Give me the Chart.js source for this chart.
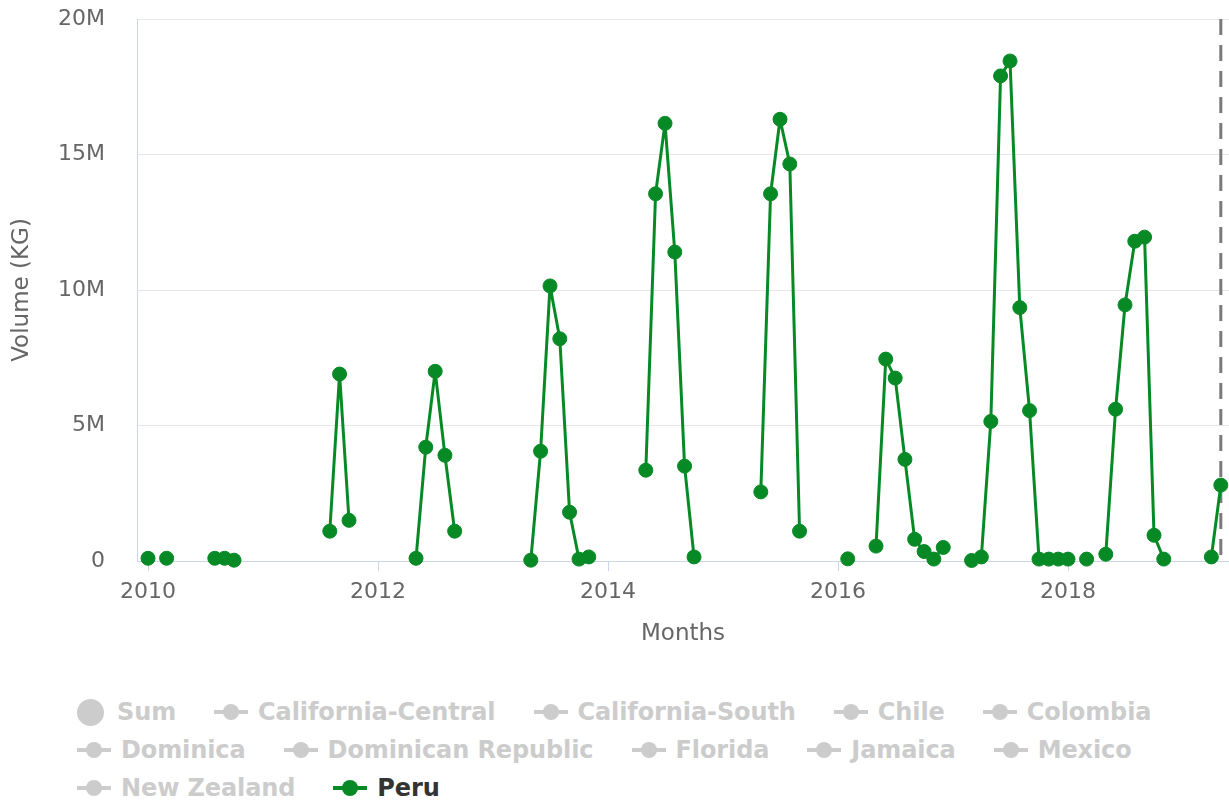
<!DOCTYPE html>
<html>
<head>
<meta charset="utf-8">
<script src="https://cdn.jsdelivr.net/npm/chart.js@4.4.0/dist/chart.umd.min.js"></script>
<style>
    body { margin: 0; background: #fff; font-family: "DejaVu Sans", sans-serif; }
    #wrap { position: relative; width: 1229px; height: 800px; overflow: hidden; }
    #legend { position: absolute; left: 77px; top: 693px; width: 1120px; display: flex; flex-wrap: wrap; column-gap: 38px; }
    .item { display: flex; align-items: center; height: 38px; font-size: 24px; font-weight: bold; color: #cccccc; white-space: nowrap; letter-spacing: -0.1px; }
    .item.on { color: #333333; }
    .sym { position: relative; width: 34px; height: 16px; margin-right: 10px; color: #cccccc; }
    .sym::before { content: ''; position: absolute; left: 0; right: 0; top: 6px; height: 4px; background: currentColor; }
    .sym::after { content: ''; position: absolute; left: 9px; top: 0; width: 16px; height: 16px; border-radius: 50%; background: currentColor; }
    .bubble { width: 27px; height: 27px; border-radius: 50%; background: #cccccc; margin-right: 13px; }
</style>
</head>
<body>
<div id="wrap">
    <canvas id="lineChart" width="1229" height="651"></canvas>
    <div id="legend"></div>
</div>
<script>
// monthly volumes for Peru, null = no shipments that month (breaks the line)
const months = [
    '2010-01', '2010-02', '2010-03', '2010-04', '2010-08', '2010-09', '2010-10', '2010-11',
    '2011-08', '2011-09', '2011-10', '2011-11',
    '2012-05', '2012-06', '2012-07', '2012-08', '2012-09', '2012-10',
    '2013-05', '2013-06', '2013-07', '2013-08', '2013-09', '2013-10', '2013-11', '2013-12',
    '2014-05', '2014-06', '2014-07', '2014-08', '2014-09', '2014-10', '2014-11',
    '2015-05', '2015-06', '2015-07', '2015-08', '2015-09', '2015-10',
    '2016-02', '2016-03', '2016-05', '2016-06', '2016-07', '2016-08', '2016-09', '2016-10', '2016-11', '2016-12', '2017-01',
    '2017-03', '2017-04', '2017-05', '2017-06', '2017-07', '2017-08', '2017-09', '2017-10', '2017-11', '2017-12',
    '2018-01', '2018-02', '2018-03', '2018-04', '2018-05', '2018-06', '2018-07', '2018-08', '2018-09', '2018-10', '2018-11', '2018-12',
    '2019-04', '2019-05'
];

const peruVolume = [
    100000, null, 100000, null, 100000, 100000, 30000, null,
    1100000, 6900000, 1500000, null,
    100000, 4200000, 7000000, 3900000, 1100000, null,
    30000, 4050000, 10150000, 8200000, 1800000, 70000, 150000, null,
    3350000, 13550000, 16150000, 11400000, 3500000, 150000, null,
    2550000, 13550000, 16300000, 14650000, 1100000, null,
    80000, null, 550000, 7450000, 6750000, 3750000, 800000, 350000, 70000, 500000, null,
    20000, 150000, 5150000, 17900000, 18450000, 9350000, 5550000, 70000, 70000, 70000,
    70000, null, 70000, null, 250000, 5600000, 9450000, 11800000, 11950000, 950000, 70000, null,
    150000, 2800000
];

const xTickYears = [2010, 2012, 2014, 2016, 2018];
const yTickValues = [0, 5000000, 10000000, 15000000, 20000000];

const legendNames = [
    'Sum', 'California-Central', 'California-South', 'Chile', 'Colombia',
    'Dominica', 'Dominican Republic', 'Florida', 'Jamaica', 'Mexico',
    'New Zealand', 'Peru'
];
const activeSeries = 'Peru';

const green = '#078a26';
const axisColor = '#ccd6eb';
const labelColor = '#666666';

function monthToYear(m) {
    const [y, mo] = m.split('-').map(Number);
    const start = Date.UTC(y, 0, 1);
    const end = Date.UTC(y + 1, 0, 1);
    return y + (Date.UTC(y, mo - 1, 1) - start) / (end - start);
}

function formatVolume(v) {
    return v === 0 ? '0' : (v / 1000000) + 'M';
}

// grey dashed marker at the last month of data
const endLine = {
    id: 'endLine',
    beforeDatasetsDraw(chart) {
        const { ctx, chartArea, scales } = chart;
        const x = scales.x.getPixelForValue(monthToYear(months[months.length - 1]));
        ctx.save();
        ctx.strokeStyle = '#7a7a7a';
        ctx.lineWidth = 3;
        ctx.setLineDash([16, 10]);
        ctx.beginPath();
        ctx.moveTo(x, chartArea.top);
        ctx.lineTo(x, chartArea.bottom);
        ctx.stroke();
        ctx.restore();
    }
};

function renderChart() {
    const ctx = document.getElementById('lineChart').getContext('2d');

    const points = months.map((m, i) => ({ x: monthToYear(m), y: peruVolume[i] }));

    new Chart(ctx, {
        type: 'line',
        data: {
            datasets: [{
                label: 'Peru',
                data: points,
                borderColor: green,
                backgroundColor: green,
                borderWidth: 3,
                borderJoinStyle: 'round',
                borderCapStyle: 'round',
                pointRadius: 7,
                pointBorderWidth: 1,
                pointBackgroundColor: green,
                pointBorderColor: green,
                spanGaps: false,
                tension: 0,
                clip: false
            }]
        },
        options: {
            responsive: false,
            animation: false,
            devicePixelRatio: 1,
            layout: { autoPadding: false, padding: { top: 19, right: 0, left: 0, bottom: 0 } },
            plugins: {
                legend: { display: false },
                tooltip: { enabled: false }
            },
            scales: {
                x: {
                    type: 'linear',
                    min: 2009.9043,
                    max: 2019.40,
                    afterBuildTicks: scale => {
                        scale.ticks = xTickYears.map(v => ({ value: v }));
                    },
                    afterFit: scale => {
                        scale.height = 90;
                        scale.paddingLeft = 0;
                        scale.paddingRight = 0;
                    },
                    ticks: {
                        callback: v => String(v),
                        color: labelColor,
                        font: { family: 'DejaVu Sans', size: 22 },
                        padding: 8,
                        maxRotation: 0
                    },
                    grid: {
                        drawOnChartArea: false,
                        drawTicks: true,
                        tickLength: 10,
                        color: axisColor
                    },
                    border: { color: axisColor, width: 1 },
                    title: {
                        display: true,
                        text: 'Months',
                        color: labelColor,
                        font: { family: 'DejaVu Sans', size: 23 },
                        padding: { top: 0, bottom: 3 }
                    }
                },
                y: {
                    min: 0,
                    max: 20000000,
                    afterBuildTicks: scale => {
                        scale.ticks = yTickValues.map(v => ({ value: v }));
                    },
                    afterFit: scale => {
                        scale.width = 137;
                        scale.paddingTop = 0;
                        scale.paddingBottom = 0;
                    },
                    ticks: {
                        callback: v => formatVolume(v),
                        color: labelColor,
                        font: { family: 'DejaVu Sans', size: 22 },
                        padding: 32
                    },
                    grid: {
                        color: '#e6e6e6',
                        drawTicks: false
                    },
                    border: { color: axisColor, width: 1 },
                    title: {
                        display: true,
                        text: 'Volume (KG)',
                        color: labelColor,
                        font: { family: 'DejaVu Sans', size: 23 },
                        padding: { top: 8, bottom: 0 }
                    }
                }
            }
        },
        plugins: [endLine]
    });
}

function renderLegend() {
    const box = document.getElementById('legend');
    legendNames.forEach(name => {
        const item = document.createElement('div');
        item.className = 'item';
        const sym = document.createElement('span');
        sym.className = name === 'Sum' ? 'bubble' : 'sym';
        if (name === activeSeries) {
            item.classList.add('on');
            sym.style.color = green;
        }
        item.appendChild(sym);
        item.appendChild(document.createTextNode(name));
        box.appendChild(item);
    });
}

document.addEventListener('DOMContentLoaded', function() {
    renderChart();
    renderLegend();
});
</script>
</body>
</html>
